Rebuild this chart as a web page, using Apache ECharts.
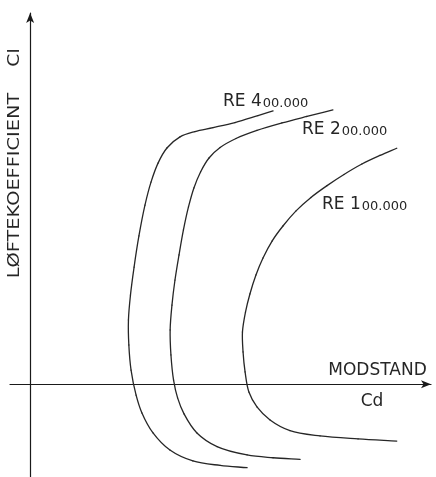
<!DOCTYPE html>
<html><head><meta charset="utf-8">
<script src="https://cdn.jsdelivr.net/npm/echarts@6/dist/echarts.min.js"></script>
<style>html,body{margin:0;padding:0;background:#fff}#c{width:436px;height:477px}</style>
</head><body><div id="c"></div>
<script>
// Drag coefficient Cd (x) vs lift coefficient Cl (y) (bottom end -> top end)
const re400Cd = [0.1077,0.0943,0.0808,0.0694,0.0610,0.0555,0.0526,0.0501,0.0490,0.0488,0.0498,0.0516,0.0540,0.0570,0.0600,0.0635,0.0679,0.0744,0.0818,0.0908,0.1017,0.1131,0.1206];
const re400Cl = [-0.360,-0.350,-0.331,-0.284,-0.210,-0.124,-0.047,0.061,0.169,0.277,0.384,0.505,0.639,0.772,0.871,0.953,1.018,1.066,1.089,1.106,1.128,1.158,1.178];
const re200Cd = [0.1340,0.1206,0.1077,0.0928,0.0828,0.0764,0.0732,0.0712,0.0699,0.0695,0.0704,0.0719,0.0739,0.0761,0.0786,0.0813,0.0846,0.0888,0.0943,0.1022,0.1126,0.1250,0.1374,0.1503];
const re200Cl = [-0.324,-0.317,-0.305,-0.269,-0.210,-0.128,-0.059,0.018,0.126,0.234,0.341,0.449,0.557,0.665,0.764,0.846,0.915,0.975,1.020,1.059,1.094,1.126,1.154,1.182];
const re100Cd = [0.1820,0.1628,0.1439,0.1290,0.1191,0.1126,0.1086,0.1067,0.1057,0.1054,0.1069,0.1091,0.1121,0.1156,0.1201,0.1255,0.1320,0.1394,0.1474,0.1558,0.1647,0.1737,0.1820];
const re100Cl = [-0.245,-0.236,-0.223,-0.200,-0.154,-0.098,-0.034,0.053,0.139,0.225,0.311,0.389,0.471,0.544,0.617,0.682,0.747,0.805,0.856,0.904,0.949,0.986,1.017];
const seriesNames = ['RE 400.000','RE 200.000','RE 100.000'];
const xAxisName = 'MODSTAND';
const xAxisSymbol = 'Cd';
const yAxisName = 'LØFTEKOEFFICIENT';
const yAxisSymbol = 'Cl';

const zip = (a,b) => a.map((v,i)=>[v,b[i]]);
const chart = echarts.init(document.getElementById('c'), null, {renderer:'canvas'});
const F = 'DejaVu Sans';
const INK = '#262626';

// Smooth polar curve: each data point starts a centripetal Catmull-Rom segment to the next point,
// all positions taken from the cartesian axes via api.coord.
function curveSeries(name, cd, cl) {
  const data = zip(cd, cl);
  return {
    name, type:'custom', coordinateSystem:'cartesian2d', data, silent:true,
    encode:{x:0, y:1},
    renderItem: function (params, api) {
      const i = params.dataIndex, n = data.length;
      if (i >= n - 1) return {type:'group', children:[]};
      const P = k => api.coord(data[Math.max(0, Math.min(n - 1, k))]);
      const p1 = P(i), p2 = P(i + 1);
      const p0 = i > 0 ? P(i - 1) : [2 * p1[0] - p2[0], 2 * p1[1] - p2[1]];
      const p3 = i + 2 < n ? P(i + 2) : [2 * p2[0] - p1[0], 2 * p2[1] - p1[1]];
      const dist = (a, b) => Math.sqrt(Math.hypot(a[0] - b[0], a[1] - b[1])) || 1e-6;
      const d1 = dist(p0, p1), d2 = dist(p1, p2), d3 = dist(p2, p3);
      const c1 = [0, 1].map(k => (d1 * d1 * p2[k] - d2 * d2 * p0[k] + (2 * d1 * d1 + 3 * d1 * d2 + d2 * d2) * p1[k]) / (3 * d1 * (d1 + d2)));
      const c2 = [0, 1].map(k => (d3 * d3 * p1[k] - d2 * d2 * p3[k] + (2 * d3 * d3 + 3 * d3 * d2 + d2 * d2) * p2[k]) / (3 * d3 * (d3 + d2)));
      return {
        type:'bezierCurve',
        shape:{x1:p1[0], y1:p1[1], x2:p2[0], y2:p2[1], cpx1:c1[0], cpy1:c1[1], cpx2:c2[0], cpy2:c2[1]},
        style:{stroke:INK, lineWidth:1.3, fill:null, lineCap:'round'}
      };
    }
  };
}
// "RE 400.000": leading digit full size, zeros drawn small like old-style figures
const reLabel = (name, x, y) => {
  const num = name.slice(3);
  return {
    type:'text', x, y,
    style:{
      text:'{a|RE ' + num.charAt(0) + '}{b|' + num.slice(1) + '}',
      textVerticalAlign:'middle', textAlign:'left',
      rich:{
        a:{fontFamily:F, fontSize:17, fill:INK, lineHeight:18, verticalAlign:'bottom'},
        b:{fontFamily:F, fontSize:13, fill:INK, lineHeight:18, verticalAlign:'bottom', padding:[0,0,0,1]}
      }
    }
  };
};
chart.setOption({
  animation:false,
  backgroundColor:'#ffffff',
  grid:{left:10, right:5, top:13, bottom:0, containLabel:false},
  xAxis:{type:'value', min:-0.01, max:0.199,
    axisLine:{show:true, onZero:true, symbol:['none','arrow'], symbolSize:[6,10], lineStyle:{color:'#1a1a1a', width:1.2}},
    axisTick:{show:false}, axisLabel:{show:false}, splitLine:{show:false}},
  yAxis:{type:'value', min:-0.4, max:1.6,
    axisLine:{show:true, onZero:true, symbol:['none','arrow'], symbolSize:[6,10], lineStyle:{color:'#1a1a1a', width:1.2}},
    axisTick:{show:false}, axisLabel:{show:false}, splitLine:{show:false}},
  series:[
    curveSeries(seriesNames[0], re400Cd, re400Cl),
    curveSeries(seriesNames[1], re200Cd, re200Cl),
    curveSeries(seriesNames[2], re100Cd, re100Cl)
  ],
  graphic:[
    reLabel(seriesNames[0], 223, 101),
    reLabel(seriesNames[1], 302, 129),
    reLabel(seriesNames[2], 322, 204.5),
    {type:'text', x:377.5, y:370.5, style:{text:xAxisName, fontFamily:F, fontSize:17, fill:INK, textAlign:'center', textVerticalAlign:'middle'}},
    {type:'text', x:372, y:402, style:{text:xAxisSymbol, fontFamily:F, fontSize:17, fill:INK, textAlign:'center', textVerticalAlign:'middle'}},
    {type:'text', x:15, y:185.5, rotation:Math.PI/2, scaleX:1.29, style:{text:yAxisName, fontFamily:F, fontSize:15, fill:INK, textAlign:'center', textVerticalAlign:'middle'}},
    {type:'text', x:15, y:57.5, rotation:Math.PI/2, scaleX:1.25, style:{text:yAxisSymbol, fontFamily:F, fontSize:15, fill:INK, textAlign:'center', textVerticalAlign:'middle'}}
  ]
});
</script></body></html>
